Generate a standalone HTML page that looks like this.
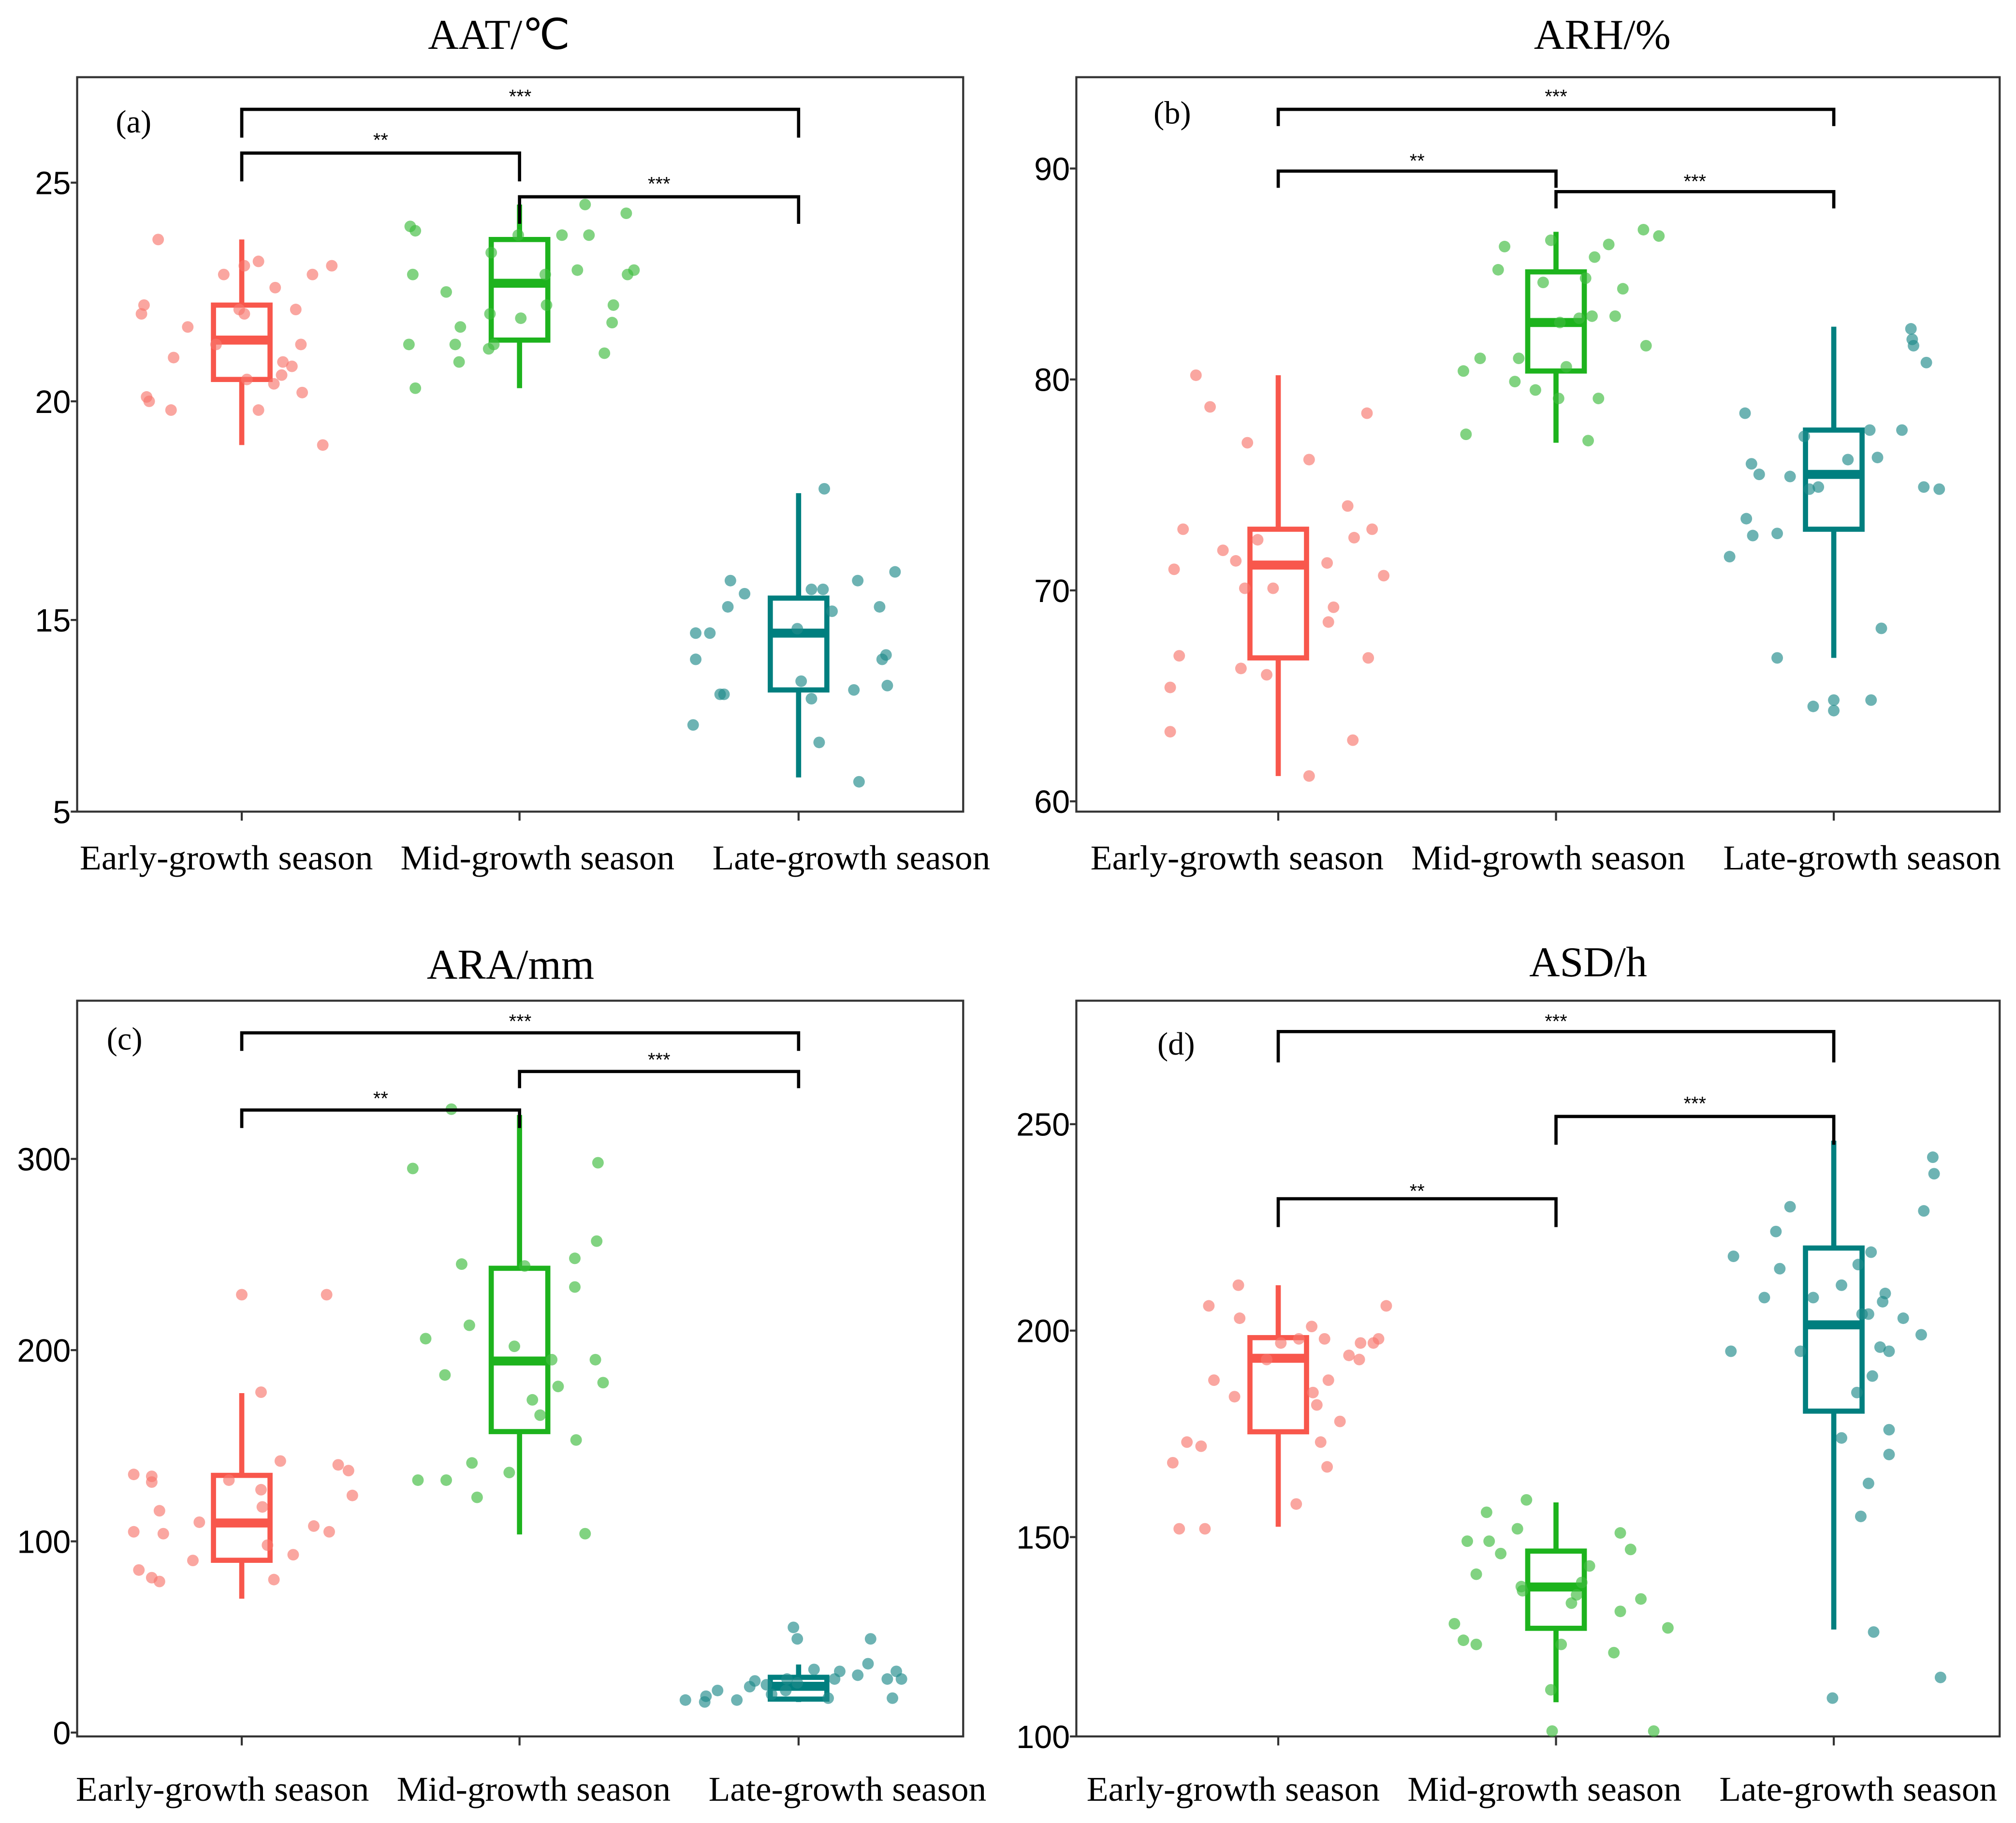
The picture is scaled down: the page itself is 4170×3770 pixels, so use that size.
<!DOCTYPE html>
<html><head><meta charset="utf-8"><style>
html,body{margin:0;padding:0;background:#fff;}
svg{display:block;}
</style></head><body>
<svg id="chart" xmlns="http://www.w3.org/2000/svg" width="4170" height="3770" viewBox="0 0 1567.7 1417.3"></svg>
<script>
const categories = ["Early-growth season","Mid-growth season","Late-growth season"];
const titles = ["AAT/℃","ARH/%","ARA/mm","ASD/h"];
const panelTags = ["(a)","(b)","(c)","(d)"];
const ticksA = [25,20,15,10.57]; const tickLabelsA = ["25","20","15","5"];
const ticksB = [90,80,70,60]; const tickLabelsB = ["90","80","70","60"];
const ticksC = [300,200,100,0]; const tickLabelsC = ["300","200","100","0"];
const ticksD = [250,200,150,101.7]; const tickLabelsD = ["250","200","150","100"];
// box stats: [lowWhisker, q1, median, q3, highWhisker]
const boxA = [[19.0,20.5,21.4,22.2,23.7],[20.3,21.4,22.7,23.7,24.5],[11.4,13.4,14.7,15.5,17.9]];
const boxB = [[61.2,66.8,71.2,72.9,80.2],[77.0,80.4,82.7,85.1,87.0],[66.8,72.9,75.5,77.6,82.5]];
const boxC = [[70,90.1,109.6,134.5,177.5],[103.6,157.4,194.3,242.8,323],[16,17.5,24.2,28.9,35.6]];
const boxD = [[152.5,175.5,193.3,198.3,211],[110,127.9,137.9,146.6,158.4],[127.6,180.5,201.4,220,246]];
// points: values and jitter (offset, in 1/216 of category spacing)
const ptsA0 = [23.7,22.2,22.0,21.7,21.0,20.1,20.0,19.8,21.3,22.9,22.0,22.1,23.2,22.6,20.6,20.4,22.1,21.3,20.9,20.8,20.2,19.8,22.9,23.1,19.0,20.5,23.1];
const jitA0 = [-65,-76,-78,-42,-53,-74,-72,-55,-20,-14,2,-2,13,26,31,25,42,46,32,39,47,13,55,70,63,4,2];
const ptsA1 = [24.0,23.9,22.9,22.5,21.7,21.3,20.9,21.3,20.3,22.0,21.2,21.3,23.4,21.9,23.8,22.9,22.2,23.8,23.0,24.5,23.8,21.1,22.2,24.3,22.9,23.0,21.8];
const jitA1 = [-85,-81,-83,-57,-46,-50,-47,-86,-81,-23,-24,-20,-22,1,-1,20,21,33,45,51,54,66,73,83,84,89,72];
const ptsA2 = [14.7,14.1,14.7,12.6,13.3,13.3,15.9,15.3,15.6,14.8,13.6,15.7,15.7,13.2,12.2,15.2,13.4,15.9,11.3,15.3,14.1,14.2,13.5,16.1,18.0];
const jitA2 = [-80,-80,-69,-82,-61,-58,-53,-55,-42,-1,2,10,19,10,16,26,43,46,47,63,65,68,69,75,20];
const ptsB0 = [80.2,78.7,77.0,72.9,71.0,71.9,71.4,70.1,72.4,66.9,65.4,66.3,66.0,70.1,61.2,76.2,71.3,69.2,68.5,74.0,72.5,72.9,66.8,70.7,62.9,78.4,63.3];
const jitB0 = [-64,-53,-24,-74,-81,-43,-33,-26,-16,-77,-84,-29,-9,-4,24,24,38,43,39,54,59,73,70,82,58,69,-84];
const ptsB1 = [86.3,85.2,81.0,80.4,77.4,79.9,79.5,81.0,84.6,82.7,80.6,86.6,79.1,84.8,85.8,83.0,83.0,79.1,86.4,84.3,77.1,87.1,86.8,81.6,82.9];
const jitB1 = [-40,-45,-59,-72,-70,-32,-16,-29,-10,3,8,-4,2,23,30,28,46,33,41,52,25,68,80,70,18];
const ptsB2 = [78.4,76.0,75.5,73.4,71.6,72.6,72.7,75.4,74.8,74.9,66.8,77.3,64.5,64.8,64.3,76.2,77.6,76.3,64.8,68.2,77.6,82.4,81.9,81.6,80.8,74.9,74.8];
const jitB2 = [-69,-64,-58,-68,-81,-63,-44,-34,-19,-12,-44,-23,-16,0,0,11,28,34,29,37,53,60,61,62,72,70,82];
const ptsC0 = [135,134,131,116,105,104,85,81,79,90,110,132,229,178,118,142,98,80,93,108,105,140,137,124,229,127];
const jitC0 = [-84,-70,-70,-64,-84,-61,-80,-70,-64,-38,-33,-10,0,15,16,30,20,25,40,56,68,75,83,86,66,15];
const ptsC1 = [295,326,206,132,132,187,213,245,141,123,136,202,244,174,166,195,181,233,248,153,195,257,298,183,104];
const jitC1 = [-83,-53,-73,-79,-57,-58,-39,-45,-37,-33,-8,-4,4,10,16,25,30,43,43,44,59,60,61,65,51];
const ptsC2 = [17,16,19,22,17,24,27,25,28,22,55,49,33,18,28,32,30,49,36,28,18,32,28,20,26];
const jitC2 = [-88,-73,-72,-63,-48,-38,-34,-25,-9,-10,-4,-1,12,23,28,32,46,56,54,69,73,76,80,-21,-1];
const ptsD0 = [206,211,203,168,173,172,188,184,193,197,198,201,185,158,152,152,198,188,173,182,194,193,197,197,198,206,178,167];
const jitD0 = [-54,-31,-30,-82,-71,-60,-50,-34,-9,2,16,26,27,14,-77,-57,36,39,33,30,55,63,64,74,78,84,48,38];
const ptsD1 = [129,125,141,149,149,146,156,152,159,138,137,124,113,103,124,136,139,143,151,147,132,135,128,122,103,134];
const jitD1 = [-79,-72,-62,-69,-52,-43,-54,-30,-23,-27,-26,-62,-4,-3,4,16,20,26,50,58,50,66,87,45,76,12];
const ptsD2 = [218,195,208,224,230,215,195,208,111,211,185,216,204,219,204,163,207,196,209,195,170,176,174,155,127,203,199,229,242,238,116,189];
const jitD2 = [-78,-80,-54,-45,-34,-42,-26,-16,-1,6,18,19,22,29,27,27,38,36,40,43,43,43,6,21,31,54,68,70,77,78,83,30];
</script>
<script>
const NS = "http://www.w3.org/2000/svg";
const svg = document.getElementById('chart');
const colors = {box:["#F8574C","#1DB31D","#007F7F"], pt:["#F8766D","#3DBB3D","#1E8A8A"]};
const labelLen = [228,213,216];
function mk(tag, attrs, parent){const e=document.createElementNS(NS,tag);for(const k in attrs)e.setAttribute(k,attrs[k]);(parent||svg).appendChild(e);return e;}
const panels = [
 {L:60,R:749,T:60,B:631,cx:[188,404,621],ls:[-12,14,41],ref:[25,142,20,312],ticks:ticksA,tl:tickLabelsA,box:boxA,pts:[ptsA0,ptsA1,ptsA2],jit:[jitA0,jitA1,jitA2],
  titleX:388,titleY:38,tagXY:[90,103],xlabY:676,brk:[[0,2,85,107,70],[0,1,119,141,104],[1,2,153,174,138]]},
 {L:837,R:1555,T:60,B:631,cx:[994,1210,1426],ls:[-32,-6,22],ref:[90,131,80,295],ticks:ticksB,tl:tickLabelsB,box:boxB,pts:[ptsB0,ptsB1,ptsB2],jit:[jitB0,jitB1,jitB2],
  titleX:1246,titleY:38,tagXY:[897,96],xlabY:676,brk:[[0,2,85,98,70],[0,1,133,146,120],[1,2,149,162,136]]},
 {L:60,R:749,T:778,B:1350,cx:[188,404,621],ls:[-15,11,38],ref:[300,901,0,1347],ticks:ticksC,tl:tickLabelsC,box:boxC,pts:[ptsC0,ptsC1,ptsC2],jit:[jitC0,jitC1,jitC2],
  titleX:397,titleY:761,tagXY:[83,816],xlabY:1400,brk:[[0,2,803,817,789],[1,2,833,846,819],[0,1,863,877,849]]},
 {L:837,R:1555,T:778,B:1350,cx:[994,1210,1426],ls:[-35,-9,19],ref:[250,874,150,1195],ticks:ticksD,tl:tickLabelsD,box:boxD,pts:[ptsD0,ptsD1,ptsD2],jit:[jitD0,jitD1,jitD2],
  titleX:1235,titleY:759,tagXY:[900,820],xlabY:1400,brk:[[0,2,802,826,789],[1,2,868,890,853],[0,1,932,954,921]]}
];
panels.forEach((p,pi)=>{
  const g = mk('g',{});
  
  
  const y = v => p.ref[1] + (v - p.ref[0])*(p.ref[3]-p.ref[1])/(p.ref[2]-p.ref[0]);
  const band = p.cx[1]-p.cx[0];
  const x = (ci, off) => p.cx[ci] + (off||0)/216*band;
  const t = mk('text',{x:p.titleX,y:p.titleY,'text-anchor':'middle','font-family':'"Liberation Serif",serif','font-size':33,fill:'#000'},g);
  t.textContent = titles[pi];
  
  
  const fr = mk('rect',{x:p.L,y:p.T,width:p.R-p.L,height:p.B-p.T,fill:'none',stroke:'#333',"stroke-width":1.6},g);
  
  
  p.ticks.forEach((tv,i)=>{
    const yy = Math.min(y(tv), p.B);
    mk('line',{x1:p.L-5,x2:p.L,y1:yy,y2:yy,stroke:'#333','stroke-width':1.6},g);
    const tt = mk('text',{x:p.L-5,y:yy+9,'text-anchor':'end','font-family':'"Liberation Sans",sans-serif','font-size':25,fill:'#000'},g);
    tt.textContent = p.tl[i];
    
    
  });
  categories.forEach((c,ci)=>{
    mk('line',{x1:x(ci),x2:x(ci),y1:p.B,y2:p.B+7,stroke:'#333','stroke-width':1.6},g);
    const xl = mk('text',{x:x(ci)+p.ls[ci],y:p.xlabY,'text-anchor':'middle','font-family':'"Liberation Serif",serif','font-size':27,textLength:labelLen[ci],lengthAdjust:'spacingAndGlyphs',fill:'#000'},g);
    xl.textContent = c;
    
    
  });
  const tag = mk('text',{x:p.tagXY[0],y:p.tagXY[1],'font-family':'"Liberation Serif",serif','font-size':25,fill:'#000'},g);
  tag.textContent = panelTags[pi];
  
  
  p.box.forEach((b,ci)=>{
    const bg = mk('g',{},g);
    
    
    const col = colors.box[ci], hw = 22;
    mk('line',{x1:x(ci),x2:x(ci),y1:y(b[0]),y2:y(b[1]),stroke:col,'stroke-width':4},bg);
    mk('line',{x1:x(ci),x2:x(ci),y1:y(b[3]),y2:y(b[4]),stroke:col,'stroke-width':4},bg);
    mk('rect',{x:x(ci)-hw,y:y(b[3]),width:2*hw,height:y(b[1])-y(b[3]),fill:'none',stroke:col,'stroke-width':4},bg);
    mk('line',{x1:x(ci)-hw,x2:x(ci)+hw,y1:y(b[2]),y2:y(b[2]),stroke:col,'stroke-width':7},bg);
  });
  p.pts.forEach((arr,ci)=>{
    arr.forEach((v,k)=>{
      const c = mk('circle',{cx:x(ci,p.jit[ci][k]),cy:y(v),r:4.5,fill:colors.pt[ci],'fill-opacity':0.65},g);
      
      
    });
  });
  p.brk.forEach((br,bi)=>{
    const x1=x(br[0]), x2=x(br[1]);
    const pl = mk('polyline',{points:`${x1},${br[3]} ${x1},${br[2]} ${x2},${br[2]} ${x2},${br[3]}`,fill:'none',stroke:'#000','stroke-width':2.5},g);
    
    
    const st = mk('text',{x:(x1+x2)/2,y:br[4]+10,'text-anchor':'middle','font-family':'"Liberation Sans",sans-serif','font-size':15,fill:'#000'},g);
    st.textContent = (br[1]-br[0]===2)?"***":(br[0]===0?"**":"***");
    
    
  });
});
</script>
</body></html>
